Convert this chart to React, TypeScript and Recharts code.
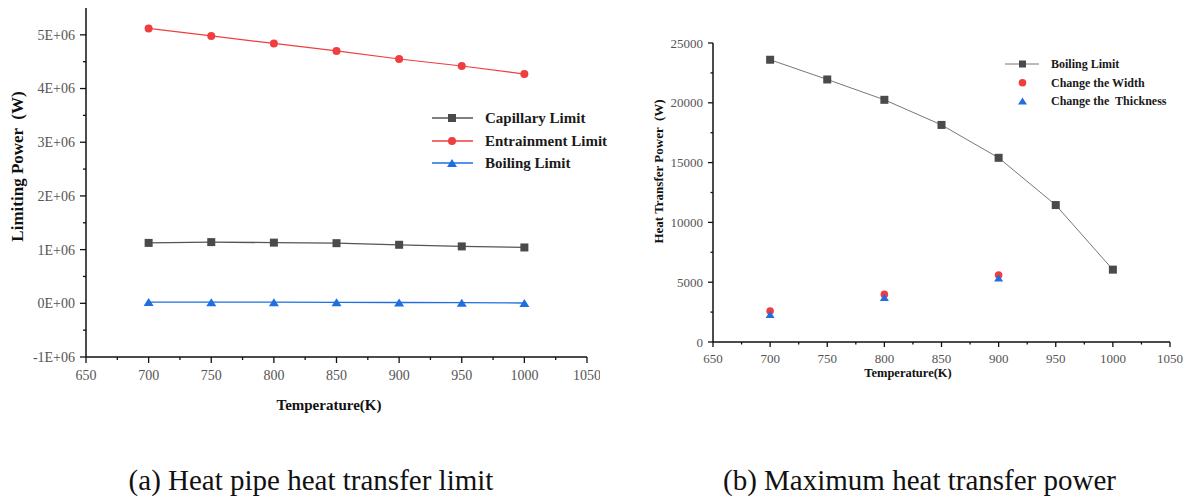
import React from "react";
import { LineChart, Line, XAxis, YAxis } from "recharts";

// temperatures (K)
const temps = [700, 750, 800, 850, 900, 950, 1000];
// (a) limits, W
const capillaryLimit = [1.125e6, 1.14e6, 1.13e6, 1.12e6, 1.09e6, 1.06e6, 1.04e6];
const entrainmentLimit = [5.12e6, 4.98e6, 4.84e6, 4.7e6, 4.55e6, 4.42e6, 4.27e6];
const boilingLimit = [23600, 21950, 20250, 18150, 15400, 11450, 6050];
// (b) modified designs
const sampleTemps = [700, 800, 900];
const changeWidth = [2590, 3980, 5600];
const changeThickness = [2310, 3730, 5350];

// axis ticks (majors get labels)
const tempTicks = [650, 675, 700, 725, 750, 775, 800, 825, 850, 875, 900, 925, 950, 975, 1000, 1025, 1050];
const powerTicksA = [-1e6, -5e5, 0, 5e5, 1e6, 1.5e6, 2e6, 2.5e6, 3e6, 3.5e6, 4e6, 4.5e6, 5e6];
const powerTicksB = [0, 2500, 5000, 7500, 10000, 12500, 15000, 17500, 20000, 22500, 25000];

const dataA = temps.map((t, i) => ({
  T: t,
  capillary: capillaryLimit[i],
  entrainment: entrainmentLimit[i],
  boiling: boilingLimit[i],
}));
const dataB = temps.map((t, i) => ({ T: t, boiling: boilingLimit[i] }));
const widthData = sampleTemps.map((t, i) => ({ T: t, v: changeWidth[i] }));
const thickData = sampleTemps.map((t, i) => ({ T: t, v: changeThickness[i] }));

const SERIF = "Liberation Serif, DejaVu Serif, serif";
const GREY = "#4a4a4a";
const RED = "#f03e3e";
const BLUE = "#1f6fe0";

const fmtSci = (v: number) => (v === 0 ? "0E+00" : `${v / 1e6}E+06`);

function square(s: number, fill: string) {
  return (p: any) =>
    p.cx == null || p.cy == null ? (
      <g key={`s${p.index}`} />
    ) : (
      <rect key={`s${p.index}`} x={p.cx - s / 2} y={p.cy - s / 2} width={s} height={s} fill={fill} />
    );
}
function circle(r: number, fill: string) {
  return (p: any) =>
    p.cx == null || p.cy == null ? <g key={`c${p.index}`} /> : <circle key={`c${p.index}`} cx={p.cx} cy={p.cy} r={r} fill={fill} />;
}
function triangle(w: number, fill: string) {
  return (p: any) => {
    if (p.cx == null || p.cy == null) return <g key={`t${p.index}`} />;
    const h = w * 0.8;
    return (
      <polygon
        key={`t${p.index}`}
        points={`${p.cx},${p.cy - h / 2} ${p.cx + w / 2},${p.cy + h / 2} ${p.cx - w / 2},${p.cy + h / 2}`}
        fill={fill}
      />
    );
  };
}

// ticks drawn by hand so minor ticks stay unlabeled and shorter
function xTick(size: number, labelDy: number, major: number, len: number) {
  return (p: any) => {
    const v = p.payload.value;
    const isMajor = v % major === 0;
    return (
      <g>
        <line x1={p.x} x2={p.x} y1={p.y} y2={p.y + (isMajor ? len : len / 2)} stroke="#111" strokeWidth={1.3} />
        {isMajor && (
          <text x={p.x} y={p.y + labelDy} textAnchor="middle" fontSize={size} style={{ fontFamily: SERIF }} fill="#555">
            {v}
          </text>
        )}
      </g>
    );
  };
}
function yTick(size: number, major: number, len: number, fmt: (v: number) => string) {
  return (p: any) => {
    const v = p.payload.value;
    const isMajor = Math.abs(v % major) < 1e-6;
    return (
      <g>
        <line x1={p.x} x2={p.x - (isMajor ? len : len / 2)} y1={p.y} y2={p.y} stroke="#111" strokeWidth={1.3} />
        {isMajor && (
          <text x={p.x - len - 5} y={p.y} dy="0.35em" textAnchor="end" fontSize={size} style={{ fontFamily: SERIF }} fill="#555">
            {fmt(v)}
          </text>
        )}
      </g>
    );
  };
}

function yTitle(text: string, cxLocal: number, dyCenter: number, size: number) {
  return (props: any) => {
    const vb = props.viewBox || { x: 0, y: 0, width: 0, height: 0 };
    const cx = vb.x + cxLocal;
    const cy = vb.y + vb.height / 2 + dyCenter;
    return (
      <text
        x={cx}
        y={cy}
        transform={`rotate(-90 ${cx} ${cy})`}
        textAnchor="middle"
        dominantBaseline="central"
        fontSize={size}
        fontWeight="bold"
        style={{ fontFamily: SERIF, whiteSpace: "pre" }}
        fill="#111"
      >
        {text}
      </text>
    );
  };
}
function xTitle(text: string, dxCenter: number, dy: number, size: number) {
  return (props: any) => {
    const vb = props.viewBox || { x: 0, y: 0, width: 0, height: 0 };
    return (
      <text
        x={vb.x + vb.width / 2 + dxCenter}
        y={vb.y + dy}
        textAnchor="middle"
        fontSize={size}
        fontWeight="bold"
        style={{ fontFamily: SERIF }}
        fill="#111"
      >
        {text}
      </text>
    );
  };
}

function LegendOverlay() {
  const tA = { fontSize: 15, fontWeight: "bold" as const, style: { fontFamily: SERIF }, fill: "#1a1a1a" };
  const tB = { fontSize: 12, fontWeight: "bold" as const, style: { fontFamily: SERIF, whiteSpace: "pre" as const }, fill: "#1a1a1a" };
  return (
    <svg width={1189} height={496} style={{ position: "absolute", left: 0, top: 0, pointerEvents: "none" }}>
      {/* (a) legend */}
      <line x1={432} x2={473} y1={118} y2={118} stroke="#555" strokeWidth={1.3} />
      <rect x={448} y={114} width={8} height={8} fill={GREY} />
      <text x={485} y={118} dy="0.35em" {...tA}>Capillary Limit</text>
      <line x1={432} x2={473} y1={141} y2={141} stroke={RED} strokeWidth={1.3} />
      <circle cx={452} cy={141} r={4} fill={RED} />
      <text x={485} y={141} dy="0.35em" {...tA}>Entrainment Limit</text>
      <line x1={432} x2={473} y1={163} y2={163} stroke={BLUE} strokeWidth={1.3} />
      <polygon points="452,159 457,167 447,167" fill={BLUE} />
      <text x={485} y={163} dy="0.35em" {...tA}>Boiling Limit</text>

      {/* (b) legend */}
      <line x1={1005} x2={1039} y1={64} y2={64} stroke="#777" strokeWidth={1} />
      <rect x={1019} y={60.5} width={7} height={7} fill={GREY} />
      <text x={1051} y={64} dy="0.35em" {...tB}>Boiling Limit</text>
      <circle cx={1022.5} cy={82.7} r={3.8} fill={RED} />
      <text x={1051} y={82.7} dy="0.35em" {...tB}>Change the Width</text>
      <polygon points="1022.5,97.5 1027,104.5 1018,104.5" fill={BLUE} />
      <text x={1051} y={101} dy="0.35em" {...tB}>Change the  Thickness</text>
    </svg>
  );
}

export default function App() {
  return (
    <div style={{ position: "absolute", left: 0, top: 0, width: 1189, height: 496, background: "#fff", fontFamily: SERIF }}>
      {/* (a) Heat pipe heat transfer limit */}
      <div style={{ position: "absolute", left: 0, top: 0 }}>
        <LineChart width={600} height={430} data={dataA} margin={{ top: 8, right: 13, bottom: 43, left: 0 }}>
          <XAxis
            dataKey="T"
            type="number"
            domain={[650, 1050]}
            ticks={tempTicks}
            interval={0}
            height={30}
            tickSize={0}
            tickMargin={0}
            tickLine={false}
            axisLine={{ stroke: "#111", strokeWidth: 1.5 }}
            tick={xTick(14, 23, 50, 6)}
            label={{ content: xTitle("Temperature(K)", -7.5, 53, 15) }}
          />
          <YAxis
            type="number"
            domain={[-1e6, 5.5e6]}
            ticks={powerTicksA}
            interval={0}
            width={86}
            tickSize={0}
            tickMargin={0}
            tickLine={false}
            axisLine={{ stroke: "#111", strokeWidth: 1.5 }}
            tick={yTick(14, 1e6, 6, fmtSci)}
            label={{ content: yTitle("Limiting Power  (W)", 17, -16, 17) }}
          />
          <Line dataKey="capillary" stroke="#555" strokeWidth={1.3} dot={square(8, GREY)} isAnimationActive={false} />
          <Line dataKey="entrainment" stroke={RED} strokeWidth={1.2} dot={circle(4, RED)} isAnimationActive={false} />
          <Line dataKey="boiling" stroke={BLUE} strokeWidth={1.3} dot={triangle(10, BLUE)} isAnimationActive={false} />
        </LineChart>
      </div>

      {/* (b) Maximum heat transfer power */}
      <div style={{ position: "absolute", left: 600, top: 0 }}>
        <LineChart width={589} height={430} data={dataB} margin={{ top: 43, right: 19, bottom: 58, left: 0 }}>
          <XAxis
            dataKey="T"
            type="number"
            domain={[650, 1050]}
            ticks={tempTicks}
            interval={0}
            height={30}
            tickSize={0}
            tickMargin={0}
            tickLine={false}
            axisLine={{ stroke: "#111", strokeWidth: 1.5 }}
            tick={xTick(13, 21, 50, 5)}
            label={{ content: xTitle("Temperature(K)", -33.5, 35, 12.5) }}
          />
          <YAxis
            type="number"
            domain={[0, 25000]}
            ticks={powerTicksB}
            interval={0}
            width={113}
            tickSize={0}
            tickMargin={0}
            tickLine={false}
            axisLine={{ stroke: "#111", strokeWidth: 1.5 }}
            tick={yTick(13, 5000, 5, (v) => String(v))}
            label={{ content: yTitle("Heat Transfer Power  (W)", 58, -21, 13) }}
          />
          <Line dataKey="boiling" stroke="#777" strokeWidth={1} dot={square(8, GREY)} isAnimationActive={false} />
          <Line data={widthData} dataKey="v" stroke="none" dot={circle(3.8, RED)} isAnimationActive={false} />
          <Line data={thickData} dataKey="v" stroke="none" dot={triangle(9, BLUE)} isAnimationActive={false} />
        </LineChart>
      </div>

      <LegendOverlay />

      <div style={{ position: "absolute", left: 0, width: 622, top: 464, textAlign: "center", fontSize: 29, color: "#111", whiteSpace: "nowrap" }}>
        (a) Heat pipe heat transfer limit
      </div>
      <div style={{ position: "absolute", left: 723, top: 464, fontSize: 29, color: "#111", whiteSpace: "nowrap" }}>
        (b) Maximum heat transfer power
      </div>
    </div>
  );
}
